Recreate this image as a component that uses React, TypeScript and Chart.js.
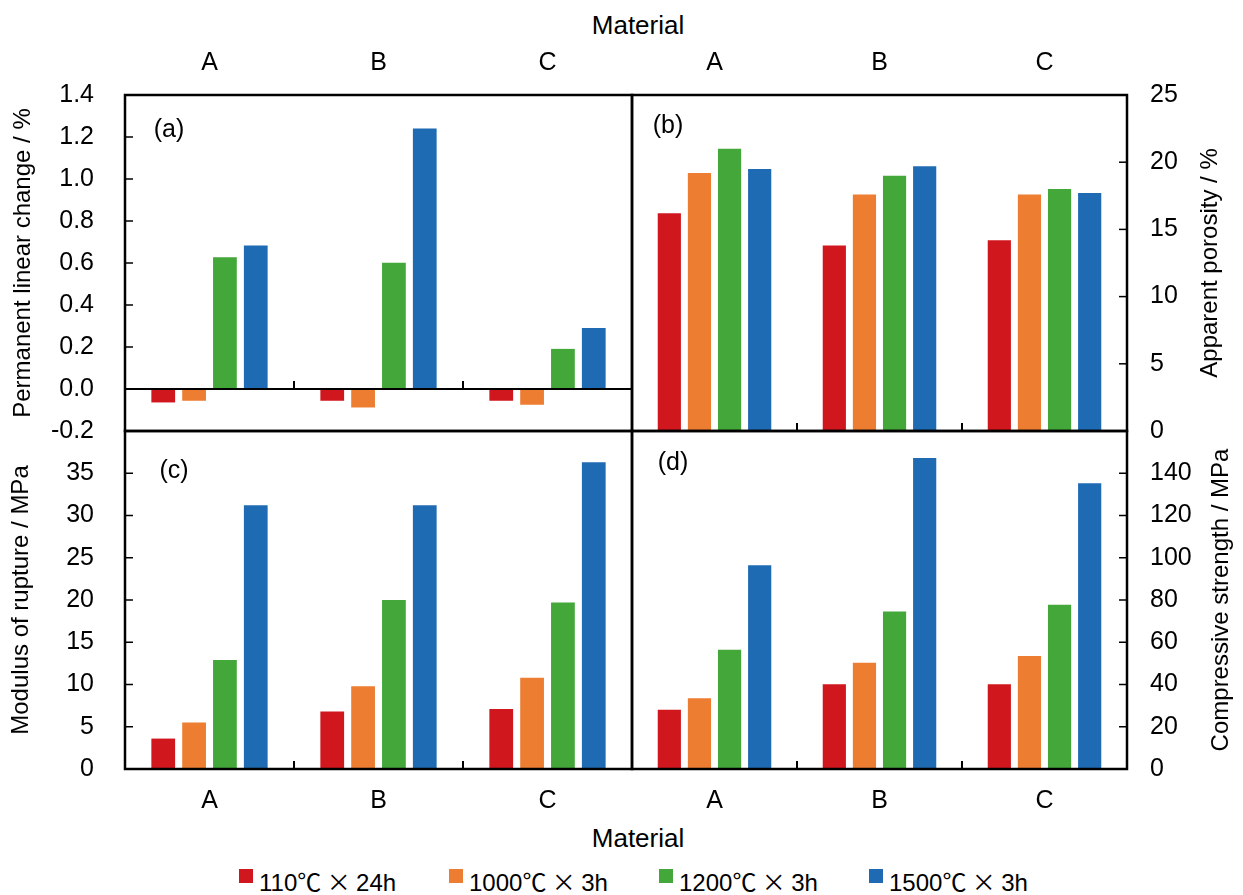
import React, { useEffect, useRef } from 'react';
import { Chart, registerables } from 'chart.js';

Chart.register(...registerables);

// ---------- data ----------
const materials = ['A', 'B', 'C'];
const seriesLabels = ['110℃ × 24h', '1000℃ × 3h', '1200℃ × 3h', '1500℃ × 3h'];
const seriesColors = ['#D1171E', '#ED7D31', '#43A73A', '#1E6BB4'];

// (a) Permanent linear change / %
const linearChange110 = [-0.064, -0.056, -0.056];
const linearChange1000 = [-0.056, -0.088, -0.075];
const linearChange1200 = [0.627, 0.601, 0.191];
const linearChange1500 = [0.683, 1.241, 0.29];

// (b) Apparent porosity / %
const porosity110 = [16.2, 13.8, 14.2];
const porosity1000 = [19.2, 17.6, 17.6];
const porosity1200 = [21.0, 19.0, 18.0];
const porosity1500 = [19.5, 19.7, 17.7];

// (c) Modulus of rupture / MPa
const rupture110 = [3.6, 6.8, 7.1];
const rupture1000 = [5.5, 9.8, 10.8];
const rupture1200 = [12.9, 20.0, 19.7];
const rupture1500 = [31.2, 31.2, 36.3];

// (d) Compressive strength / MPa
const compressive110 = [28.0, 40.1, 40.1];
const compressive1000 = [33.5, 50.3, 53.5];
const compressive1200 = [56.5, 74.6, 77.7];
const compressive1500 = [96.4, 147.2, 135.3];

const FONT = "'Liberation Sans', Arial, 'Noto Sans CJK JP', sans-serif";
const CJK_FONT = "'Noto Sans CJK JP', 'Liberation Sans', sans-serif";

// ---------- plugin: frame, inner ticks, separators, panel label, side title ----------
const panelDecor = {
  id: 'panelDecor',
  afterDatasetsDraw(chart: any, _args: any, opts: any) {
    const { ctx, chartArea: ca, scales } = chart;
    const x = scales.x;
    const y = scales.y;
    const right = opts.side === 'right';
    ctx.save();
    ctx.strokeStyle = '#000';
    ctx.lineWidth = 2.5;
    ctx.strokeRect(ca.left, ca.top, ca.right - ca.left, ca.bottom - ca.top);
    const y0 = y.getPixelForValue(0);
    ctx.lineWidth = 2;
    ctx.beginPath();
    ctx.moveTo(ca.left, y0);
    ctx.lineTo(ca.right, y0);
    ctx.stroke();
    ctx.lineWidth = 1.5;
    y.ticks.forEach((t: any) => {
      const py = y.getPixelForValue(t.value);
      if (py <= ca.top + 1 || py >= ca.bottom - 1) return;
      ctx.beginPath();
      if (right) {
        ctx.moveTo(ca.right, py);
        ctx.lineTo(ca.right - 8, py);
      } else {
        ctx.moveTo(ca.left, py);
        ctx.lineTo(ca.left + 8, py);
      }
      ctx.stroke();
    });
    ctx.lineWidth = 2;
    for (let i = 1; i < x.ticks.length; i++) {
      const px = (x.getPixelForValue(i - 1) + x.getPixelForValue(i)) / 2;
      ctx.beginPath();
      ctx.moveTo(px, y0);
      ctx.lineTo(px, y0 - 8);
      ctx.stroke();
    }
    ctx.fillStyle = '#000';
    ctx.textAlign = 'center';
    ctx.textBaseline = 'middle';
    ctx.font = `25px ${FONT}`;
    ctx.fillText(opts.label, ca.left + opts.labelDx, ca.top + opts.labelDy);
    ctx.font = `24px ${FONT}`;
    const tx = right ? ca.right + opts.titleOffset : ca.left - opts.titleOffset;
    ctx.translate(tx, (ca.top + ca.bottom) / 2);
    ctx.rotate(-Math.PI / 2);
    ctx.fillText(opts.title, 0, 0);
    ctx.restore();
  },
};

type Spec = {
  left: number; top: number; w: number; h: number;
  padding: { top: number; left: number; right: number; bottom: number };
  xPos: 'top' | 'bottom'; xH: number; xPad: number;
  side: 'left' | 'right'; yW: number; yPad: number;
  min: number; max: number; step: number; decimals: number; hideTop: boolean;
  values: number[][];
  label: string; labelDx: number; labelDy: number;
  title: string; titleOffset: number;
};

function makeConfig(s: Spec): any {
  return {
    type: 'bar',
    data: {
      labels: materials,
      datasets: s.values.map((v, i) => ({
        label: seriesLabels[i],
        data: v,
        backgroundColor: seriesColors[i],
        borderWidth: 0,
        categoryPercentage: 0.73,
        barPercentage: 0.77,
      })),
    },
    options: {
      responsive: false,
      animation: false,
      layout: { padding: s.padding },
      plugins: {
        legend: { display: false },
        tooltip: { enabled: false },
        panelDecor: {
          side: s.side, label: s.label, labelDx: s.labelDx, labelDy: s.labelDy,
          title: s.title, titleOffset: s.titleOffset,
        },
      },
      scales: {
        x: {
          type: 'category',
          position: s.xPos,
          offset: true,
          grid: { display: false, drawTicks: false },
          border: { display: false },
          ticks: { color: '#000', font: { family: FONT, size: 25 }, padding: s.xPad, maxRotation: 0 },
          afterFit: (sc: any) => {
            sc.height = s.xH;
            sc.paddingLeft = 0;
            sc.paddingRight = 0;
          },
        },
        y: {
          type: 'linear',
          position: s.side,
          min: s.min,
          max: s.max,
          grid: { display: false, drawTicks: false },
          border: { display: false },
          ticks: {
            stepSize: s.step,
            color: '#000',
            font: { family: FONT, size: 25 },
            padding: s.yPad,
            callback: (v: number) => {
              const n = Math.abs(Number(v)) < 1e-9 ? 0 : Number(v);
              return n.toFixed(s.decimals);
            },
          },
          afterBuildTicks: (sc: any) => {
            if (s.hideTop) sc.ticks = sc.ticks.filter((t: any) => t.value < s.max - 1e-9);
          },
          afterFit: (sc: any) => {
            sc.width = s.yW;
            sc.paddingTop = 0;
            sc.paddingBottom = 0;
          },
        },
      },
    },
    plugins: [panelDecor],
  };
}

const specs: Spec[] = [
  {
    left: 0, top: 0, w: 640, h: 460,
    padding: { top: 0, left: 0, right: 8, bottom: 29 },
    xPos: 'top', xH: 95, xPad: 17, side: 'left', yW: 125, yPad: 31,
    min: -0.2, max: 1.4, step: 0.2, decimals: 1, hideTop: false,
    values: [linearChange110, linearChange1000, linearChange1200, linearChange1500],
    label: '(a)', labelDx: 44, labelDy: 35,
    title: 'Permanent linear change / %', titleOffset: 102,
  },
  {
    left: 600, top: 0, w: 643, h: 460,
    padding: { top: 0, left: 32, right: 0, bottom: 29 },
    xPos: 'top', xH: 95, xPad: 17, side: 'right', yW: 116, yPad: 23,
    min: 0, max: 25, step: 5, decimals: 0, hideTop: false,
    values: [porosity110, porosity1000, porosity1200, porosity1500],
    label: '(b)', labelDx: 36, labelDy: 31,
    title: 'Apparent porosity / %', titleOffset: 83,
  },
  {
    left: 0, top: 400, w: 640, h: 420,
    padding: { top: 31, left: 0, right: 8, bottom: 0 },
    xPos: 'bottom', xH: 51, xPad: 17, side: 'left', yW: 125, yPad: 31,
    min: 0, max: 40, step: 5, decimals: 0, hideTop: true,
    values: [rupture110, rupture1000, rupture1200, rupture1500],
    label: '(c)', labelDx: 49, labelDy: 40,
    title: 'Modulus of rupture / MPa', titleOffset: 104,
  },
  {
    left: 600, top: 400, w: 643, h: 420,
    padding: { top: 31, left: 32, right: 0, bottom: 0 },
    xPos: 'bottom', xH: 51, xPad: 17, side: 'right', yW: 116, yPad: 23,
    min: 0, max: 160, step: 20, decimals: 0, hideTop: true,
    values: [compressive110, compressive1000, compressive1200, compressive1500],
    label: '(d)', labelDx: 41, labelDy: 32,
    title: 'Compressive strength / MPa', titleOffset: 94,
  },
];

function Panel({ spec }: { spec: Spec }) {
  const ref = useRef<HTMLCanvasElement>(null);
  useEffect(() => {
    const chart = new Chart(ref.current as HTMLCanvasElement, makeConfig(spec));
    return () => chart.destroy();
  }, [spec]);
  return (
    <canvas
      ref={ref}
      width={spec.w}
      height={spec.h}
      style={{ position: 'absolute', left: spec.left, top: spec.top, width: spec.w, height: spec.h }}
    />
  );
}

// render legend text: non-ASCII symbols (℃, ×) in a CJK font, like the original
function LegendText({ text }: { text: string }) {
  const parts = text.split(/([^\x00-\x7F]+(?:\s[^\x00-\x7F]+)*\s?)/).filter((p) => p.length > 0);
  return (
    <span>
      {parts.map((p, i) =>
        /[^\x00-\x7F]/.test(p) ? (
          <span key={i} style={{ fontFamily: CJK_FONT }}>{p}</span>
        ) : (
          <span key={i}>{p}</span>
        ),
      )}
    </span>
  );
}

export default function App() {
  const textStyle: React.CSSProperties = {
    position: 'absolute',
    fontFamily: FONT,
    color: '#000',
    whiteSpace: 'nowrap',
  };
  return (
    <div style={{ position: 'absolute', left: 0, top: 0, width: 1243, height: 895, background: '#fff', overflow: 'hidden' }}>
      <div style={{ ...textStyle, left: 638, top: 10, fontSize: 26, lineHeight: '30px', transform: 'translateX(-50%)' }}>Material</div>
      {specs.map((s) => (
        <Panel key={s.label} spec={s} />
      ))}
      <div style={{ ...textStyle, left: 638, top: 823, fontSize: 26, lineHeight: '30px', transform: 'translateX(-50%)' }}>Material</div>
      <div style={{ position: 'absolute', left: 239, top: 868, display: 'flex' }}>
        {seriesLabels.map((lab, i) => (
          <div key={lab} style={{ width: 210, display: 'flex', alignItems: 'flex-start' }}>
            <div style={{ width: 14, height: 14, background: seriesColors[i], marginRight: 6, marginTop: 1 }} />
            <div style={{ fontFamily: FONT, fontSize: 24, lineHeight: '26px', height: 26, color: '#000', whiteSpace: 'nowrap' }}>
              <LegendText text={lab} />
            </div>
          </div>
        ))}
      </div>
    </div>
  );
}
